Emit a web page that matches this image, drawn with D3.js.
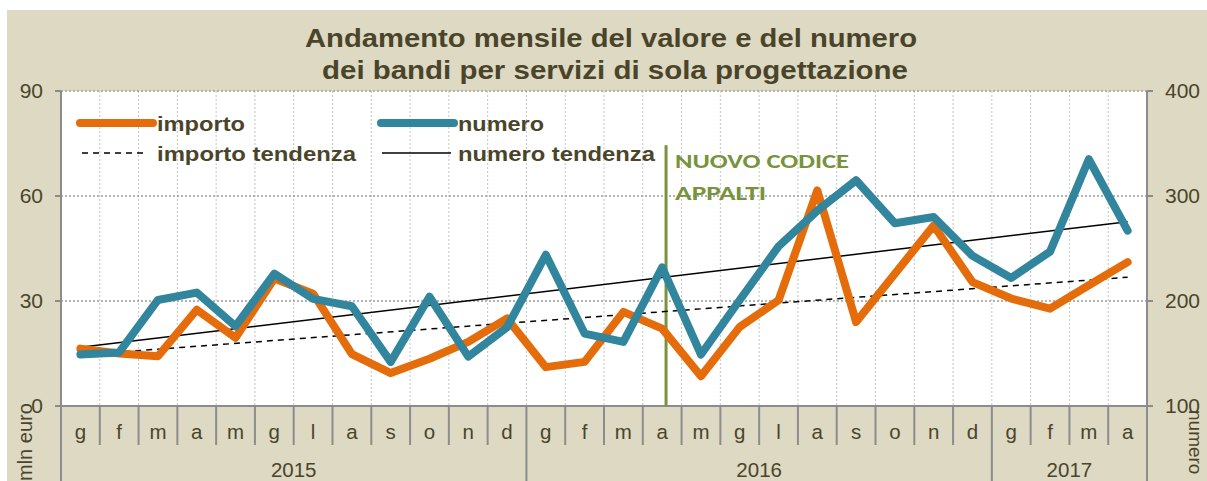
<!DOCTYPE html>
<html>
<head>
<meta charset="utf-8">
<script src="https://d3js.org/d3.v7.min.js"></script>
<style>
body { margin: 0; background: #fff; }
svg { display: block; font-family: Arial, "Liberation Sans", Helvetica, sans-serif; }
.grid-h { stroke: #9a9a9a; stroke-width: 1.5; stroke-dasharray: 2,2; }
.grid-v { stroke: #c4c4c4; stroke-width: 1; stroke-dasharray: 2,2; }
.axis-line { stroke: #8c8c8c; stroke-width: 2; }
.lbl { fill: #4a452a; }
</style>
</head>
<body>
<svg></svg>
<script>
// periods on the x axis (gen 2015 .. apr 2017)
const periods = [
  "2015-01","2015-02","2015-03","2015-04","2015-05","2015-06","2015-07","2015-08","2015-09","2015-10","2015-11","2015-12",
  "2016-01","2016-02","2016-03","2016-04","2016-05","2016-06","2016-07","2016-08","2016-09","2016-10","2016-11","2016-12",
  "2017-01","2017-02","2017-03","2017-04"
];
const monthLabels = [
  "g","f","m","a","m","g","l","a","s","o","n","d",
  "g","f","m","a","m","g","l","a","s","o","n","d",
  "g","f","m","a"
];
const years = ["2015", "2016", "2017"];

// importo (mln euro, asse sinistro)
const importo = [16.4, 15.0, 14.2, 27.5, 19.5, 36.4, 32.1, 14.8, 9.4, 13.5, 18.3, 25.0,
                 11.1, 12.6, 26.9, 22.1, 8.5, 22.6, 30.2, 61.6, 24.0, 37.8, 51.6, 35.4,
                 30.7, 27.8, 34.5, 41.1];
// numero (asse destro)
const numero = [149, 151, 201, 208, 176, 226, 202, 195, 142, 204, 147, 175,
                244, 169, 161, 232, 149, 201, 252, 286, 315, 274, 280, 243,
                222, 247, 335, 267];
// linear trends, value at first and last month
const importoTrend = [14.6, 36.8];
const numeroTrend = [156, 275.5];

const leftTicks = [0, 30, 60, 90];
const rightTicks = [100, 200, 300, 400];
const codiceMonth = "2016-04", codiceDay = 19;

const W = 1207, H = 481;
const m = { left: 61, right: 1147, top: 91, bottom: 406 };

const svg = d3.select("svg").attr("width", W).attr("height", H);

svg.append("rect").attr("x", 7).attr("y", 10).attr("width", W - 7).attr("height", H - 10)
  .attr("fill", "#ddd9c3");
svg.append("rect").attr("x", m.left).attr("y", m.top)
  .attr("width", m.right - m.left).attr("height", m.bottom - m.top).attr("fill", "#fff");

const x = d3.scaleBand().domain(periods).range([m.left, m.right]);
const xc = d => x(d) + x.bandwidth() / 2;
const yL = d3.scaleLinear().domain([0, 90]).range([m.bottom, m.top]);
const yR = d3.scaleLinear().domain([100, 400]).range([m.bottom, m.top]);

// title (the source font runs wider, so stretch to its width)
const title = svg.append("text").attr("class", "lbl")
  .attr("text-anchor", "middle").attr("font-weight", "bold").attr("font-size", 25.5);
title.append("tspan").attr("x", 611).attr("y", 47)
  .attr("textLength", 612).attr("lengthAdjust", "spacingAndGlyphs")
  .text("Andamento mensile del valore e del numero");
title.append("tspan").attr("x", 615).attr("y", 79)
  .attr("textLength", 586).attr("lengthAdjust", "spacingAndGlyphs")
  .text("dei bandi per servizi di sola progettazione");

// grid
const bounds = periods.map(p => x(p)).concat([m.right]);
svg.append("g").selectAll("line").data(bounds.slice(1, -1)).join("line")
  .attr("class", "grid-v").attr("x1", d => d).attr("x2", d => d)
  .attr("y1", m.top).attr("y2", m.bottom);
svg.append("g").selectAll("line").data(leftTicks.slice(1)).join("line")
  .attr("class", "grid-h").attr("x1", m.left).attr("x2", m.right)
  .attr("y1", d => yL(d)).attr("y2", d => yL(d));

// axes lines
svg.append("line").attr("class", "axis-line").attr("x1", m.left).attr("x2", m.left).attr("y1", m.top).attr("y2", H);
svg.append("line").attr("class", "axis-line").attr("x1", m.right).attr("x2", m.right).attr("y1", m.top).attr("y2", H);
svg.append("line").attr("class", "axis-line").attr("x1", m.left - 6).attr("x2", m.right + 6).attr("y1", m.bottom).attr("y2", m.bottom);

svg.append("g").selectAll("line").data(leftTicks).join("line").attr("class", "axis-line")
  .attr("x1", m.left - 6).attr("x2", m.left).attr("y1", d => yL(d)).attr("y2", d => yL(d));
svg.append("g").selectAll("line").data(rightTicks).join("line").attr("class", "axis-line")
  .attr("x1", m.right).attr("x2", m.right + 6).attr("y1", d => yR(d)).attr("y2", d => yR(d));

svg.append("g").selectAll("text").data(leftTicks).join("text").attr("class", "lbl")
  .attr("x", 43).attr("y", d => yL(d) + 7).attr("text-anchor", "end").attr("font-size", 21)
  .text(d => d);
svg.append("g").selectAll("text").data(rightTicks).join("text").attr("class", "lbl")
  .attr("x", 1165).attr("y", d => yR(d) + 7).attr("font-size", 21)
  .text(d => d);

svg.append("text").attr("class", "lbl").attr("font-size", 20)
  .attr("transform", "translate(32,481) rotate(-90)").text("mln euro");
svg.append("text").attr("class", "lbl").attr("font-size", 19)
  .attr("transform", "translate(1189,410) rotate(90)").text("numero");

// category axis
const yearStart = periods.map((p, i) => i).filter(i => periods[i].endsWith("-01"));
svg.append("g").selectAll("line").data(bounds).join("line").attr("class", "axis-line")
  .attr("x1", d => d).attr("x2", d => d).attr("y1", m.bottom)
  .attr("y2", (d, i) => (yearStart.includes(i) || i === periods.length) ? H : 445);
svg.append("g").selectAll("text").data(periods).join("text").attr("class", "lbl")
  .attr("x", d => xc(d)).attr("y", 439).attr("text-anchor", "middle").attr("font-size", 20.5)
  .text((d, i) => monthLabels[i]);
svg.append("g").selectAll("text").data(years).join("text").attr("class", "lbl")
  .attr("x", yr => {
    const ps = periods.filter(p => p.startsWith(yr));
    return (x(ps[0]) + x(ps[ps.length - 1]) + x.bandwidth()) / 2;
  })
  .attr("y", 477).attr("text-anchor", "middle").attr("font-size", 20.5).text(d => d);

// nuovo codice appalti
const xCod = x(codiceMonth) + x.bandwidth() * (codiceDay - 1) / 30;
svg.append("line").attr("x1", xCod).attr("x2", xCod).attr("y1", yL(74.5)).attr("y2", m.bottom)
  .attr("stroke", "#77933c").attr("stroke-width", 3);
const cod = svg.append("text").attr("fill", "#77933c").attr("font-family", "Carlito, Lato, sans-serif")
  .attr("font-weight", "bold").attr("font-size", 20.5);
cod.append("tspan").attr("x", xCod + 9).attr("y", 168)
  .attr("textLength", 174).attr("lengthAdjust", "spacingAndGlyphs").text("NUOVO CODICE");
cod.append("tspan").attr("x", xCod + 9).attr("y", 200)
  .attr("textLength", 91).attr("lengthAdjust", "spacingAndGlyphs").text("APPALTI");

// trend lines
const ends = [periods[0], periods[periods.length - 1]];
svg.append("line").attr("x1", xc(ends[0])).attr("x2", xc(ends[1]))
  .attr("y1", yL(importoTrend[0])).attr("y2", yL(importoTrend[1]))
  .attr("stroke", "#000").attr("stroke-width", 1.5).attr("stroke-dasharray", "6,5");
svg.append("line").attr("x1", xc(ends[0])).attr("x2", xc(ends[1]))
  .attr("y1", yR(numeroTrend[0])).attr("y2", yR(numeroTrend[1]))
  .attr("stroke", "#000").attr("stroke-width", 1.5);

// data lines
const lineL = d3.line().x((d, i) => xc(periods[i])).y(d => yL(d));
const lineR = d3.line().x((d, i) => xc(periods[i])).y(d => yR(d));
svg.append("path").datum(importo).attr("d", lineL).attr("fill", "none")
  .attr("stroke", "#e46c0a").attr("stroke-width", 8).attr("stroke-linejoin", "round").attr("stroke-linecap", "round");
svg.append("path").datum(numero).attr("d", lineR).attr("fill", "none")
  .attr("stroke", "#31859c").attr("stroke-width", 8).attr("stroke-linejoin", "round").attr("stroke-linecap", "round");

// legend
const legend = [
  { label: "importo", x: 80, y: 123, color: "#e46c0a", w: 8, dash: null, len: 73, tw: 88 },
  { label: "numero", x: 381, y: 123, color: "#31859c", w: 8, dash: null, len: 73, tw: 86 },
  { label: "importo tendenza", x: 82, y: 153, color: "#000", w: 1.5, dash: "6,5", len: 62, tw: 199 },
  { label: "numero tendenza", x: 382, y: 153, color: "#000", w: 1.5, dash: null, len: 69, tw: 197 }
];
const lg = svg.append("g").selectAll("g").data(legend).join("g");
lg.append("line").attr("x1", d => d.x).attr("x2", d => d.x + d.len).attr("y1", d => d.y).attr("y2", d => d.y)
  .attr("stroke", d => d.color).attr("stroke-width", d => d.w)
  .attr("stroke-linecap", d => d.w > 2 ? "round" : "butt")
  .attr("stroke-dasharray", d => d.dash);
lg.append("text").attr("class", "lbl").attr("font-weight", "bold").attr("font-size", 21)
  .attr("x", d => d.x < 200 ? 157 : 458).attr("y", d => d.y + 8)
  .attr("textLength", d => d.tw).attr("lengthAdjust", "spacingAndGlyphs")
  .text(d => d.label);
</script>
</body>
</html>
